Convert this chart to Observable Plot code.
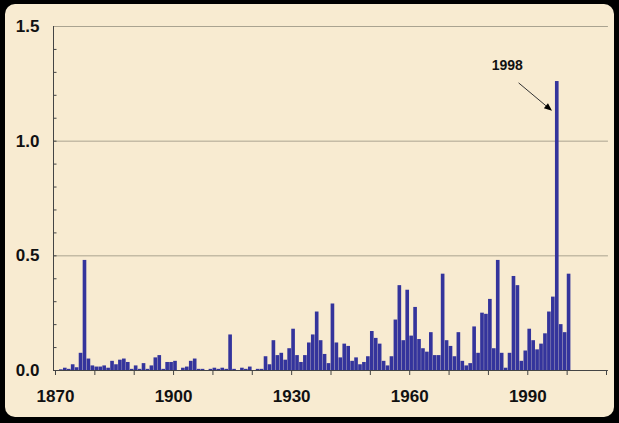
<!DOCTYPE html>
<html>
<head>
<meta charset="utf-8">
<script src="https://cdn.jsdelivr.net/npm/d3@7"></script>
<script src="https://cdn.jsdelivr.net/npm/@observablehq/plot@0.6"></script>
<style>
  html, body { margin: 0; padding: 0; background: #000; width: 619px; height: 423px; overflow: hidden; }
  #panel { position: absolute; left: 5px; top: 4px; width: 609px; height: 413px; border-radius: 10px; background: #f8ebd1; }
  #chart { position: absolute; left: 0; top: 0; }
  #chart svg { background: transparent; }
</style>
</head>
<body>
<div id="panel"></div>
<div id="chart"></div>
<script>
const years = d3.range(1871, 2002);
const values = [
  0.000, 0.003, 0.010, 0.005, 0.025, 0.012, 0.075, 0.480, 0.050, 0.020, // 1871-1880
  0.015, 0.015, 0.020, 0.010, 0.040, 0.025, 0.045, 0.050, 0.035, 0.005, // 1881-1890
  0.020, 0.005, 0.030, 0.005, 0.020, 0.055, 0.065, 0.005, 0.035, 0.035, // 1891-1900
  0.040, 0.000, 0.010, 0.015, 0.040, 0.050, 0.005, 0.005, 0.000, 0.005, // 1901-1910
  0.010, 0.005, 0.010, 0.005, 0.155, 0.005, 0.000, 0.010, 0.005, 0.015, // 1911-1920
  0.000, 0.005, 0.005, 0.060, 0.025, 0.130, 0.065, 0.075, 0.045, 0.095, // 1921-1930
  0.180, 0.065, 0.035, 0.065, 0.120, 0.155, 0.255, 0.130, 0.070, 0.030, // 1931-1940
  0.290, 0.120, 0.055, 0.115, 0.105, 0.040, 0.055, 0.025, 0.035, 0.060, // 1941-1950
  0.170, 0.140, 0.115, 0.040, 0.020, 0.060, 0.220, 0.370, 0.130, 0.350, // 1951-1960
  0.150, 0.275, 0.135, 0.095, 0.080, 0.165, 0.065, 0.065, 0.420, 0.130, // 1961-1970
  0.105, 0.060, 0.165, 0.040, 0.020, 0.030, 0.190, 0.075, 0.250, 0.245, // 1971-1980
  0.310, 0.095, 0.480, 0.075, 0.010, 0.075, 0.410, 0.370, 0.040, 0.085, // 1981-1990
  0.180, 0.130, 0.090, 0.115, 0.160, 0.255, 0.320, 1.260, 0.200, 0.165, // 1991-2000
  0.420                                                                  // 2001
];
const yLabelTicks = [0, 0.5, 1.0, 1.5];
const gridValues = [0.5, 1.0, 1.5];
const yMinorTicks = d3.range(1, 15).map(i => i / 10);
const decadeTicks = d3.range(1870, 2011, 10);
const labeledYears = [1870, 1900, 1930, 1960, 1990];
const annotation = [{label: "1998", x: 1985.3, y: 1.33, ax1: 1988.3, ay1: 1.252, ax2: 1996.8, ay2: 1.13}];

const data = years.map((year, i) => ({year, value: values[i]}));

const arrowMark = (index, scales) => {
  const g = d3.create("svg:g");
  for (const a of annotation) {
    const x1 = scales.x(a.ax1), y1 = scales.y(a.ay1);
    const x2 = scales.x(a.ax2), y2 = scales.y(a.ay2);
    const ang = Math.atan2(y2 - y1, x2 - x1);
    const L = 8, W = 3.2;
    const bx = x2 - L * Math.cos(ang), by = y2 - L * Math.sin(ang);
    g.append("line").attr("x1", x1).attr("y1", y1).attr("x2", bx).attr("y2", by)
      .attr("stroke", "#333").attr("stroke-width", 1);
    const px = -Math.sin(ang) * W, py = Math.cos(ang) * W;
    g.append("path")
      .attr("d", `M${x2},${y2}L${bx + px},${by + py}L${bx - px},${by - py}Z`)
      .attr("fill", "#000");
  }
  return g.node();
};

const plot = Plot.plot({
  width: 619,
  height: 423,
  marginLeft: 53,
  marginRight: 15,
  marginTop: 26,
  marginBottom: 53,
  style: {fontFamily: "'Liberation Sans', Arial, sans-serif", fontWeight: "bold", fontSize: "17px", color: "#111", background: "transparent"},
  x: {domain: [1870, 2010]},
  y: {domain: [0, 1.5]},
  marks: [
    Plot.ruleY(gridValues, {x1: 1870, x2: 2011, stroke: "#aaa390", strokeWidth: 1}),
    Plot.rectY(data, {x1: d => d.year - 0.5, x2: d => d.year + 0.5, y: "value", fill: "#34349c", insetLeft: 0.15, insetRight: 0.15}),
    Plot.ruleY(yMinorTicks, {x1: 1870, x2: 1870, insetRight: -3.5, stroke: "#444"}),
    Plot.ruleX([1870], {y1: 0, y2: 1.5, stroke: "#444"}),
    Plot.ruleY([0], {x1: 1870, x2: 2011, stroke: "#444"}),
    Plot.axisY({ticks: yLabelTicks, tickSize: 0, tickPadding: 14, tickFormat: d3.format(".1f"), fontSize: 17, fontWeight: "bold", fill: "#111", label: null}),
    Plot.axisX({ticks: decadeTicks, tickSize: 5, tickPadding: 14, stroke: "#444",
      tickFormat: d => labeledYears.includes(d) ? String(d) : "", fontSize: 17, fontWeight: "bold", fill: "#111", label: null, dx: 2}),
    Plot.text(annotation, {x: "x", y: "y", text: "label", fontSize: 14, fontWeight: "bold", fill: "#111"}),
    arrowMark
  ]
});
document.getElementById("chart").appendChild(plot);
</script>
</body>
</html>
